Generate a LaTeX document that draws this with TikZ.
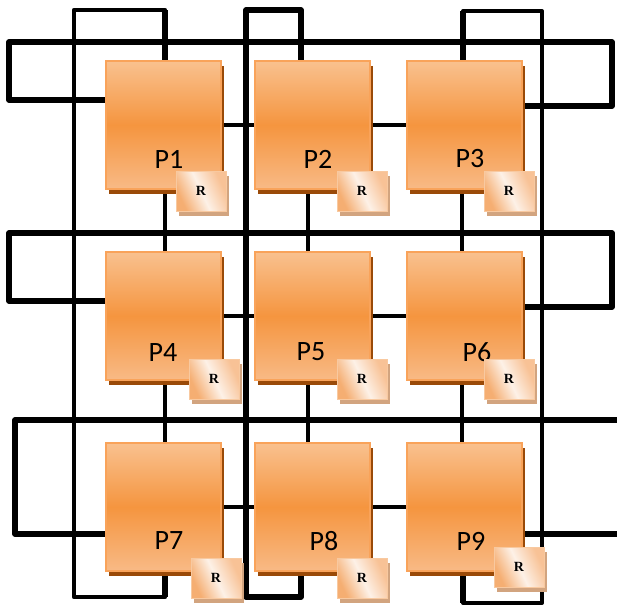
\documentclass[tikz,border=0pt]{standalone}
\usepackage{fontspec}
\newfontfamily\pfont{Carlito}
\newfontfamily\rfont{Liberation Serif}
\usetikzlibrary{shadows,backgrounds}
\definecolor{boxtop}{HTML}{F9C18F}
\definecolor{boxmid}{HTML}{F5953F}
\definecolor{boxbot}{HTML}{F8BA86}
\definecolor{boxedge}{HTML}{F9A35A}
\definecolor{boxshadow}{HTML}{9A4A08}
\definecolor{rA}{HTML}{F5AE72}
\definecolor{rW}{HTML}{FDF1E7}
\definecolor{rB}{HTML}{F8C296}
\definecolor{rborder}{HTML}{F8C9A0}
\definecolor{rshadow}{HTML}{D2A47F}
\pgfdeclarehorizontalshading{rshade}{100bp}{color(0bp)=(rA); color(27bp)=(rA); color(50bp)=(rW); color(73bp)=(rB); color(100bp)=(rB)}
\tikzset{
  pbox/.style={rectangle, draw=boxedge, line width=1.2pt,
    top color=boxtop, bottom color=boxbot, middle color=boxmid,
    minimum width=115pt, minimum height=128pt, inner sep=0pt, outer sep=0pt,
    anchor=north west,
    general shadow={fill=boxshadow, shadow xshift=3pt, shadow yshift=-5pt}},
  plabel/.style={font=\pfont\fontsize{28}{30}\selectfont, inner sep=0pt, text=black},
  rbox/.style={rectangle, draw=rborder, line width=1pt, shading=rshade, shading angle=25,
    minimum width=50pt, minimum height=40pt, inner sep=0pt, outer sep=0pt,
    anchor=north west, font=\rfont\bfseries\fontsize{14}{16}\selectfont,
    general shadow={fill=rshadow, shadow xshift=3pt, shadow yshift=-5pt}},
  loopline/.style={line width=5.5pt, line join=round, draw=black},
  lnk/.style={line width=4.5pt, draw=black},
  outerA/.style={line width=4.5pt, line join=round, draw=black},
  outerB/.style={line width=5.5pt, line join=round, draw=black},
  outerC/.style={line width=4pt, line join=round, draw=black},
}
\begin{document}
\begin{tikzpicture}[x=1pt,y=-1pt]
\useasboundingbox (0,0) rectangle (617,606);
% processor boxes
\node[pbox] (P1) at (106,61) {};
\node[pbox] (P2) at (255,61) {};
\node[pbox] (P3) at (407,61) {};
\node[pbox] (P4) at (106,252) {};
\node[pbox] (P5) at (255,252) {};
\node[pbox] (P6) at (407,252) {};
\node[pbox] (P7) at (106,443) {};
\node[pbox] (P8) at (255,443) {};
\node[pbox] (P9) at (407,443) {};
% labels
\node[plabel] (L1) at (169,159) {P1};
\node[plabel] (L2) at (318,159) {P2};
\node[plabel] (L3) at (470,159) {P3};
\node[plabel] (L4) at (163,352) {P4};
\node[plabel] (L5) at (311,352) {P5};
\node[plabel] (L6) at (477,352) {P6};
\node[plabel] (L7) at (169,541) {P7};
\node[plabel] (L8) at (324,541) {P8};
\node[plabel] (L9) at (471,541) {P9};
% router boxes
\node[rbox] (R1) at (176,171) {R};
\node[rbox] (R2) at (337,171) {R};
\node[rbox] (R3) at (484,171) {R};
\node[rbox] (R4) at (189,359) {R};
\node[rbox] (R5) at (337,359) {R};
\node[rbox] (R6) at (484,359) {R};
\node[rbox] (R7) at (191,558) {R};
\node[rbox] (R8) at (337,558) {R};
\node[rbox] (R9) at (494,547) {R};
\begin{pgfonlayer}{background}
% column reference coordinates
\coordinate (c1) at (165,0);
\coordinate (c2) at (308,0);
\coordinate (c3) at (462,0);
\coordinate (d2) at (301,0);
\coordinate (d3) at (463,0);
% row 1 wrap loop
\coordinate (a1) at (9,100); \coordinate (a2) at (9,42);
\coordinate (a3) at (612,42); \coordinate (a4) at (612,106);
\draw[loopline] (P1.west |- a1) -- (a1) -- (a2) -- (a3) -- (a4) -- (P3.east |- a4);
% row 2 wrap loop
\coordinate (b1) at (9,301); \coordinate (b2) at (9,233);
\coordinate (b3) at (612,233); \coordinate (b4) at (612,307);
\draw[loopline] (P4.west |- b1) -- (b1) -- (b2) -- (b3) -- (b4) -- (P6.east |- b4);
% row 3 wrap loop
\coordinate (e1) at (15,534); \coordinate (e2) at (15,420);
\coordinate (e3) at (622,420); \coordinate (e4) at (622,534);
\draw[loopline] (P7.west |- e1) -- (e1) -- (e2) -- (e3) -- (e4) -- (P9.east |- e4);
% horizontal links
\draw[lnk] (P1.east) -- (P2.west);
\draw[lnk] (P2.east) -- (P3.west);
\draw[lnk] (P4.east) -- (P5.west);
\draw[lnk] (P5.east) -- (P6.west);
\draw[lnk] (P7.east) -- (P8.west);
\draw[lnk] (P8.east) -- (P9.west);
% vertical links
\draw[lnk] (P1.south -| c1) -- (P4.north -| c1);
\draw[lnk] (P4.south -| c1) -- (P7.north -| c1);
\draw[lnk] (P2.south -| c2) -- (P5.north -| c2);
\draw[lnk] (P5.south -| c2) -- (P8.north -| c2);
\draw[lnk] (P3.south -| c3) -- (P6.north -| c3);
\draw[lnk] (P6.south -| c3) -- (P9.north -| c3);
% column 1 wrap
\coordinate (f1) at (165,10); \coordinate (f2) at (74,10);
\coordinate (f3) at (74,597); \coordinate (f4) at (165,597);
\draw[outerA] (P1.north -| c1) -- (f1) -- (f2) -- (f3) -- (f4) -- (P7.south -| c1);
\draw[outerB] (P1.north -| c1) -- (f1);
\draw[outerB] (P7.south -| c1) -- (f4);
% column 2 wrap
\coordinate (g1) at (301,10); \coordinate (g2) at (246,10);
\coordinate (g3) at (246,597); \coordinate (g4) at (301,597);
\draw[outerB] (P2.north -| d2) -- (g1) -- (g2) -- (g3) -- (g4) -- (P8.south -| d2);
% column 3 wrap
\coordinate (h1) at (463,11); \coordinate (h2) at (542,11);
\coordinate (h3) at (542,603); \coordinate (h4) at (463,603);
\draw[outerC] (P3.north -| d3) -- (h1) -- (h2) -- (h3) -- (h4) -- (P9.south -| d3);
\draw[outerB] (P3.north -| d3) -- (h1);
\draw[outerB] (P9.south -| d3) -- (h4);
\end{pgfonlayer}
\end{tikzpicture}
\end{document}
